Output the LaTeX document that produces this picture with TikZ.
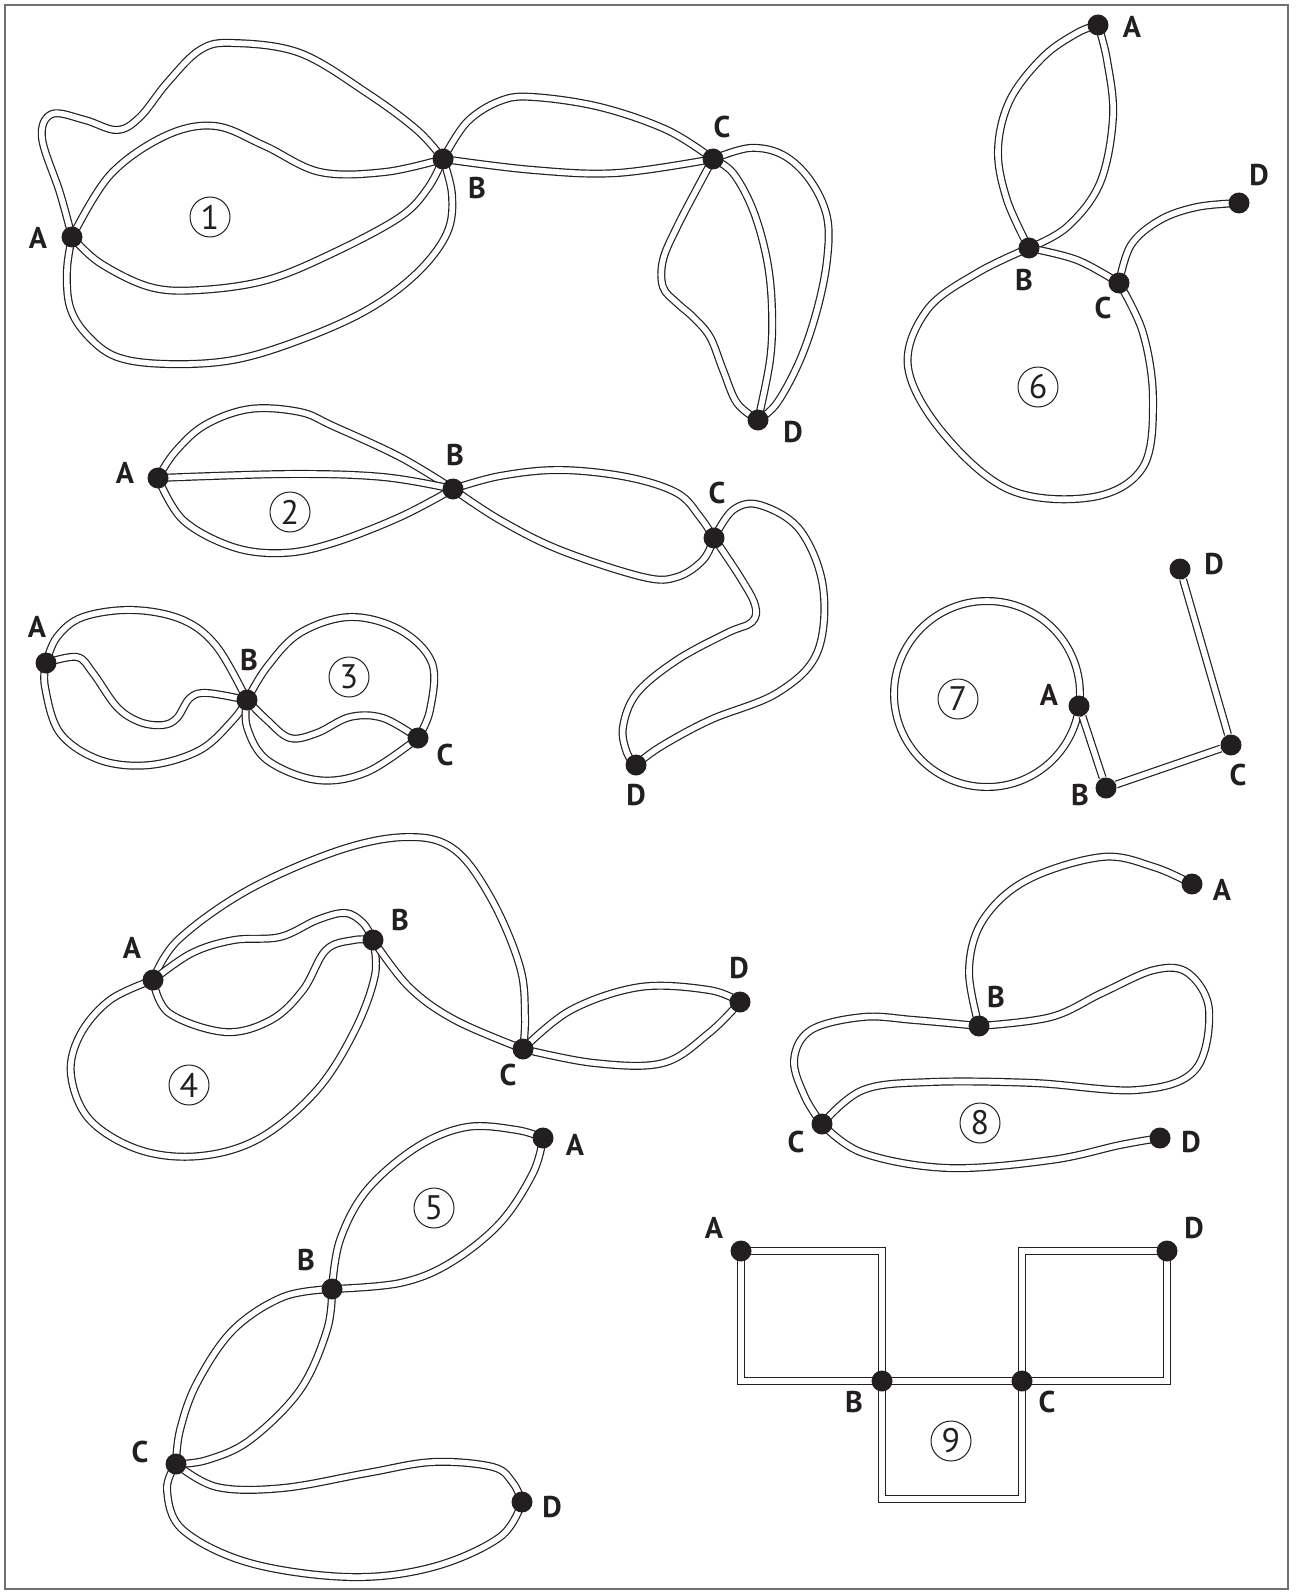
\documentclass[tikz,border=0pt]{standalone}
\usepackage{fontspec}
\setmainfont{PT Sans}
\pgfdeclarelayer{edges}
\pgfsetlayers{edges,main}
\definecolor{ink}{HTML}{231F20}
\definecolor{framegray}{HTML}{707070}
\tikzset{
 dbl/.style={draw=ink, double=white, double distance=2.8pt, line width=0.6pt},
 dot/.style={circle, fill=ink, inner sep=0pt, minimum size=10.5pt},
 lab/.style={font=\fontsize{15}{17}\selectfont\bfseries, text=ink, inner sep=0pt},
 num/.style={circle, draw=ink, line width=0.5pt, inner sep=0pt, minimum size=20pt, font=\fontsize{17}{19}\selectfont, text=ink},
 sm/.style={smooth, tension=0.6}
}
\begin{document}
\begin{tikzpicture}[x=0.5pt,y=-0.5pt]
\useasboundingbox (0,0) rectangle (1298,1594);
\draw[framegray, line width=0.9pt] (5,5) rectangle (1288,1589);

% ---------- graph 1
\node[dot] (g1A) at (72,237) {};
\node[dot] (g1B) at (443,159) {};
\node[dot] (g1C) at (713,159) {};
\node[dot] (g1D) at (758,420) {};
\node[lab] (g1Al) at (38,238) {A};
\node[lab] (g1Bl) at (477,188) {B};
\node[lab] (g1Cl) at (722,127) {C};
\node[lab] (g1Dl) at (793,432) {D};
\node[num] (n1) at (210,217) {1};
% ---------- graph 2
\node[dot] (g2A) at (158,478) {};
\node[dot] (g2B) at (453,489) {};
\node[dot] (g2C) at (714,538) {};
\node[dot] (g2D) at (636,765) {};
\node[lab] (g2Al) at (125,473) {A};
\node[lab] (g2Bl) at (455,455) {B};
\node[lab] (g2Cl) at (717,493) {C};
\node[lab] (g2Dl) at (636,795) {D};
\node[num] (n2) at (290,512) {2};
% ---------- graph 3
\node[dot] (g3A) at (46,663) {};
\node[dot] (g3B) at (247,700) {};
\node[dot] (g3C) at (418,738) {};
\node[lab] (g3Al) at (37,627) {A};
\node[lab] (g3Bl) at (249,660) {B};
\node[lab] (g3Cl) at (445,755) {C};
\node[num] (n3) at (349,677) {3};
% ---------- graph 4
\node[dot] (g4A) at (153,980) {};
\node[dot] (g4B) at (373,940) {};
\node[dot] (g4C) at (523,1049) {};
\node[dot] (g4D) at (740,1002) {};
\node[lab] (g4Al) at (132,948) {A};
\node[lab] (g4Bl) at (400,920) {B};
\node[lab] (g4Cl) at (508,1075) {C};
\node[lab] (g4Dl) at (739,968) {D};
\node[num] (n4) at (189,1085) {4};
% ---------- graph 5
\node[dot] (g5A) at (543,1138) {};
\node[dot] (g5B) at (332,1289) {};
\node[dot] (g5C) at (176,1464) {};
\node[dot] (g5D) at (522,1502) {};
\node[lab] (g5Al) at (575,1145) {A};
\node[lab] (g5Bl) at (306,1260) {B};
\node[lab] (g5Cl) at (140,1452) {C};
\node[lab] (g5Dl) at (552,1507) {D};
\node[num] (n5) at (434,1208) {5};
% ---------- graph 6
\node[dot] (g6A) at (1098,25) {};
\node[dot] (g6B) at (1029,248) {};
\node[dot] (g6C) at (1119,283) {};
\node[dot] (g6D) at (1239,203) {};
\node[lab] (g6Al) at (1132,27) {A};
\node[lab] (g6Bl) at (1024,280) {B};
\node[lab] (g6Cl) at (1103,308) {C};
\node[lab] (g6Dl) at (1259,175) {D};
\node[num] (n6) at (1038,387) {6};
% ---------- graph 7
\node[dot] (g7A) at (1079,706) {};
\node[dot] (g7B) at (1106,788) {};
\node[dot] (g7C) at (1231,745) {};
\node[dot] (g7D) at (1180,569) {};
\node[lab] (g7Al) at (1049,695) {A};
\node[lab] (g7Bl) at (1080,795) {B};
\node[lab] (g7Cl) at (1238,775) {C};
\node[lab] (g7Dl) at (1214,564) {D};
\node[num] (n7) at (958,699) {7};
% ---------- graph 8
\node[dot] (g8A) at (1192,884) {};
\node[dot] (g8B) at (979,1026) {};
\node[dot] (g8C) at (822,1124) {};
\node[dot] (g8D) at (1160,1138) {};
\node[lab] (g8Al) at (1222,890) {A};
\node[lab] (g8Bl) at (996,997) {B};
\node[lab] (g8Cl) at (796,1142) {C};
\node[lab] (g8Dl) at (1191,1142) {D};
\node[num] (n8) at (980,1123) {8};
% ---------- graph 9
\node[dot] (g9A) at (741,1251) {};
\node[dot] (g9B) at (882,1381) {};
\node[dot] (g9C) at (1022,1381) {};
\node[dot] (g9D) at (1167,1251) {};
\node[lab] (g9Al) at (714,1228) {A};
\node[lab] (g9Bl) at (854,1402) {B};
\node[lab] (g9Cl) at (1047,1402) {C};
\node[lab] (g9Dl) at (1194,1228) {D};
\node[num] (n9) at (951,1441) {9};
\coordinate (g9P) at (882,1499);
\coordinate (g9Q) at (1022,1499);

\begin{pgfonlayer}{edges}
% graph 1
\draw[dbl] plot[sm] coordinates {(g1A) (60,193) (42,138) (52,114) (85,120) (117,130) (140,117) (167,83) (200,50) (233,43) (300,53) (367,93) (417,130) (g1B)};
\draw[dbl] plot[sm] coordinates {(g1A) (110,175) (165,136) (215,126) (265,146) (320,172) (385,172) (g1B)};
\draw[dbl] plot[sm] coordinates {(g1A) (100,263) (150,287) (200,290) (267,280) (333,253) (400,217) (428,188) (g1B)};
\draw[dbl] plot[sm] coordinates {(g1A) (67,270) (70,307) (87,335) (117,357) (167,364) (233,360) (300,340) (367,310) (417,273) (447,233) (452,195) (g1B)};
\draw[dbl] plot[sm] coordinates {(g1B) (467,122) (500,101) (533,97) (600,107) (667,130) (g1C)};
\draw[dbl] plot[sm] coordinates {(g1B) (533,170) (617,173) (g1C)};
\draw[dbl] plot[sm] coordinates {(g1C) (700,183) (677,227) (663,260) (663,287) (677,303) (693,317) (710,337) (723,370) (737,403) (g1D)};
\draw[dbl] plot[sm] coordinates {(g1C) (733,173) (753,210) (767,260) (772,310) (770,360) (g1D)};
\draw[dbl] plot[sm] coordinates {(g1C) (750,148) (783,155) (810,180) (827,217) (827,260) (817,310) (800,360) (777,403) (g1D)};
% graph 2
\draw[dbl] plot[sm] coordinates {(g2A) (175,452) (205,425) (250,409) (300,412) (333,426) (400,457) (g2B)};
\draw[dbl] plot[sm] coordinates {(g2A) (290,474) (383,477) (g2B)};
\draw[dbl] plot[sm] coordinates {(g2A) (183,520) (233,547) (283,553) (333,543) (400,517) (g2B)};
\draw[dbl] plot[sm] coordinates {(g2B) (500,476) (560,470) (627,477) (677,493) (700,517) (g2C)};
\draw[dbl] plot[sm] coordinates {(g2B) (500,520) (560,550) (643,577) (677,577) (703,560) (g2C)};
\draw[dbl] plot[sm] coordinates {(g2C) (740,577) (755,605) (752,622) (727,633) (677,660) (637,693) (623,727) (627,753) (g2D)};
\draw[dbl] plot[sm] coordinates {(g2C) (733,510) (760,505) (800,530) (823,587) (817,653) (777,693) (710,720) (660,747) (g2D)};
% graph 3
\draw[dbl] plot[sm] coordinates {(g3A) (57,637) (83,617) (133,610) (183,620) (217,647) (g3B)};
\draw[dbl] plot[sm] coordinates {(g3A) (77,657) (93,673) (117,707) (140,722) (163,725) (177,718) (190,698) (207,693) (g3B)};
\draw[dbl] plot[sm] coordinates {(g3A) (45,687) (60,733) (100,760) (150,765) (200,750) (233,720) (g3B)};
\draw[dbl] plot[sm] coordinates {(g3B) (267,667) (300,633) (350,617) (400,630) (432,663) (430,710) (g3C)};
\draw[dbl] plot[sm] coordinates {(g3B) (267,720) (290,738) (317,733) (350,717) (383,718) (g3C)};
\draw[dbl] plot[sm] coordinates {(g3B) (247,727) (267,760) (317,780) (367,772) (g3C)};
% graph 4
\draw[dbl] plot[sm] coordinates {(g4A) (178,940) (248,890) (340,850) (409,837) (455,850) (492,900) (520,967) (525,1017) (g4C)};
\draw[dbl] plot[sm] coordinates {(g4A) (192,953) (234,940) (280,937) (317,920) (345,913) (363,923) (g4B)};
\draw[dbl] plot[sm] coordinates {(g4A) (169,1013) (225,1032) (271,1020) (303,990) (326,950) (354,940) (g4B)};
\draw[dbl] plot[sm] coordinates {(g4A) (110,1000) (80,1035) (71,1075) (90,1120) (140,1150) (200,1156) (260,1138) (317,1090) (355,1030) (375,975) (g4B)};
\draw[dbl] plot[sm] coordinates {(g4B) (409,987) (455,1020) (g4C)};
\draw[dbl] plot[sm] coordinates {(g4C) (571,1010) (640,987) (709,990) (g4D)};
\draw[dbl] plot[sm] coordinates {(g4C) (594,1063) (663,1063) (709,1033) (g4D)};
% graph 5
\draw[dbl] plot[sm] coordinates {(g5B) (340,1240) (367,1190) (417,1147) (467,1127) (517,1130) (g5A)};
\draw[dbl] plot[sm] coordinates {(g5B) (400,1283) (450,1263) (500,1223) (533,1173) (g5A)};
\draw[dbl] plot[sm] coordinates {(g5B) (283,1297) (233,1330) (197,1383) (180,1430) (g5C)};
\draw[dbl] plot[sm] coordinates {(g5B) (327,1330) (300,1390) (250,1440) (207,1460) (g5C)};
\draw[dbl] plot[sm] coordinates {(g5C) (217,1487) (283,1488) (367,1473) (433,1462) (493,1467) (513,1483) (g5D)};
\draw[dbl] plot[sm] coordinates {(g5C) (167,1490) (183,1530) (250,1563) (350,1577) (433,1567) (500,1537) (g5D)};
% graph 6
\draw[dbl] plot[sm] coordinates {(g6B) (1007,200) (998,150) (1010,100) (1043,57) (1077,33) (g6A)};
\draw[dbl] plot[sm] coordinates {(g6B) (1067,227) (1100,183) (1113,117) (1107,60) (g6A)};
\draw[dbl] plot[sm] coordinates {(g6B) (1077,260) (g6C)};
\draw[dbl] plot[sm] coordinates {(g6C) (1131,245) (1160,220) (1197,207) (g6D)};
\draw[dbl] plot[sm] coordinates {(g6B) (977,273) (927,310) (908,367) (943,433) (1010,490) (1093,497) (1143,467) (1153,400) (1143,333) (g6C)};
% graph 7
\draw[dbl] (987,694) circle[radius=46.5pt];
\draw[dbl] (g7A) -- (g7B);
\draw[dbl] (g7B) -- (g7C);
\draw[dbl] (g7C) -- (g7D);
% graph 8
\draw[dbl] plot[sm] coordinates {(g8B) (969,970) (983,920) (1027,880) (1102,857) (1154,867) (g8A)};
\draw[dbl] plot[sm] coordinates {(g8B) (1051,1017) (1102,993) (1154,970) (1188,973) (1209,1010) (1195,1070) (1137,1090) (1034,1083) (931,1082) (863,1090) (g8C)};
\draw[dbl] plot[sm] coordinates {(g8B) (914,1020) (863,1017) (811,1030) (794,1060) (805,1097) (g8C)};
\draw[dbl] plot[sm] coordinates {(g8C) (863,1153) (948,1168) (1051,1160) (1120,1145) (g8D)};
% graph 9
\draw[dbl, line join=miter] (g9A.center) -| (g9B.center);
\draw[dbl, line join=miter] (g9A.center) |- (g9B.center);
\draw[dbl, line join=miter] (g9C.center) |- (g9D.center);
\draw[dbl, line join=miter] (g9C.center) -| (g9D.center);
\draw[dbl] (g9B.center) -- (g9C.center);
\draw[dbl, line join=miter] (g9B.center) -- (g9P) -- (g9Q) -- (g9C.center);
\end{pgfonlayer}
\end{tikzpicture}
\end{document}
